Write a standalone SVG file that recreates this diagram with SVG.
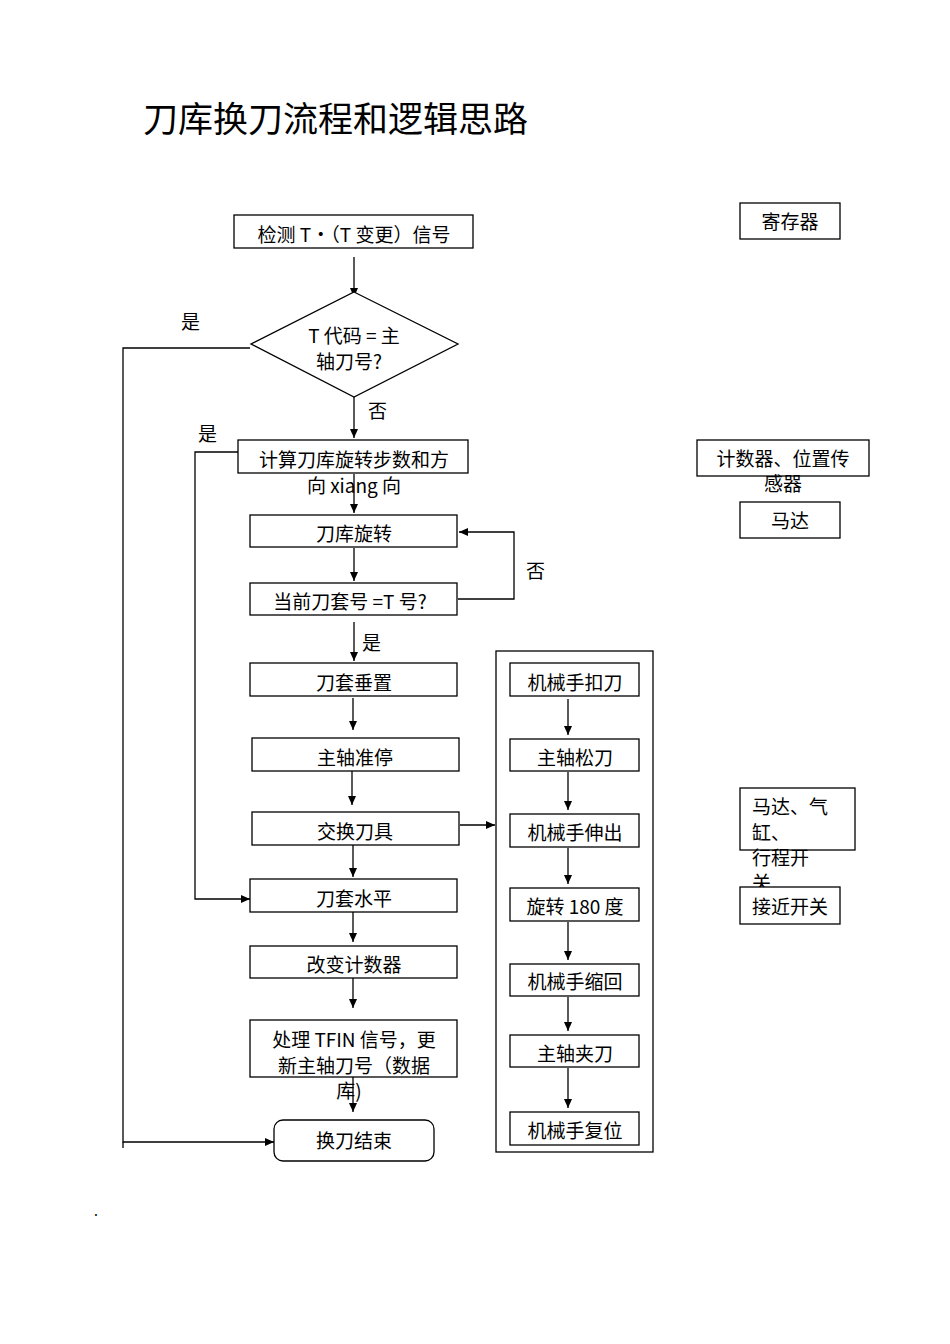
<svg xmlns="http://www.w3.org/2000/svg" width="950" height="1344" viewBox="0 0 950 1344">
<style>
text{font-family:"Noto Sans CJK SC","Noto Sans",sans-serif;font-size:19px;fill:#000}
.c{text-anchor:middle}
.b{fill:#fff;stroke:#000;stroke-width:1.3}
.l{fill:none;stroke:#000;stroke-width:1.3}
</style>
<defs><marker id="a" markerWidth="10" markerHeight="10" refX="9" refY="5" orient="auto" markerUnits="userSpaceOnUse"><path d="M0,1 L9,5 L0,9 z" fill="#000"/></marker></defs>
<rect width="950" height="1344" fill="#fff"/>
<text x="143" y="132" style="font-size:35px">刀库换刀流程和逻辑思路</text>
<g id="connectors" class="l" marker-end="url(#a)">
<line x1="354" y1="257" x2="354" y2="297"/>
<line x1="354" y1="397" x2="354" y2="438"/>
<line x1="354" y1="474" x2="354" y2="513"/>
<line x1="354" y1="548" x2="354" y2="581"/>
<polyline points="458,599 514,599 514,532 459,532"/>
<line x1="354" y1="622" x2="354" y2="661"/>
<line x1="353" y1="698" x2="353" y2="730"/>
<line x1="352" y1="771" x2="352" y2="805"/>
<line x1="353" y1="840" x2="353" y2="877"/>
<polyline points="238,452 195,452 195,899 250,899"/>
<line x1="353" y1="904" x2="353" y2="942"/>
<line x1="353" y1="968" x2="353" y2="1008"/>
<line x1="353" y1="1075" x2="353" y2="1112"/>
<polyline points="250,348 123,348 123,1142 274,1142"/>
<line x1="460" y1="825" x2="495" y2="825"/>
<line x1="568" y1="699" x2="568" y2="735"/>
<line x1="568" y1="772" x2="568" y2="810"/>
<line x1="568" y1="848" x2="568" y2="884"/>
<line x1="568" y1="922" x2="568" y2="960"/>
<line x1="568" y1="997" x2="568" y2="1031"/>
<line x1="568" y1="1068" x2="568" y2="1108"/>
</g>
<line x1="123" y1="1142" x2="123" y2="1148" stroke="#000" stroke-width="1.3"/>
<g id="n1"><rect class="b" x="234" y="215" width="239" height="33"/><text class="c" x="354" y="242">检测 T·（T 变更）信号</text></g>
<g id="n2"><polygon class="b" points="354,292 458,344 354,397 251,344"/><text class="c" x="354" y="343">T 代码 = 主</text><text class="c" x="349" y="369">轴刀号?</text></g>
<text x="181" y="329">是</text><text x="368" y="418">否</text><text x="198" y="441">是</text>
<g id="n3"><rect class="b" x="238" y="440" width="230" height="33"/><text class="c" x="354" y="467">计算刀库旋转步数和方</text><text class="c" x="354" y="493">向 xiang 向</text></g>
<g id="n4"><rect class="b" x="250" y="515" width="207" height="32"/><text class="c" x="354" y="541">刀库旋转</text></g>
<g id="n5"><rect class="b" x="250" y="583" width="207" height="32"/><text class="c" x="350" y="609">当前刀套号 =T 号?</text></g>
<text x="526" y="578">否</text><text x="362" y="650">是</text>
<g id="n6"><rect class="b" x="250" y="663" width="207" height="33"/><text class="c" x="354" y="690">刀套垂置</text></g>
<g id="n7"><rect class="b" x="252" y="738" width="207" height="33"/><text class="c" x="355" y="765">主轴准停</text></g>
<g id="n8"><rect class="b" x="252" y="812" width="207" height="33"/><text class="c" x="355" y="839">交换刀具</text></g>
<g id="n9"><rect class="b" x="250" y="879" width="207" height="33"/><text class="c" x="354" y="906">刀套水平</text></g>
<g id="n10"><rect class="b" x="250" y="946" width="207" height="32"/><text class="c" x="354" y="972">改变计数器</text></g>
<g id="n11"><rect class="b" x="250" y="1020" width="207" height="57"/><text class="c" x="354" y="1047">处理 TFIN 信号，更</text><text class="c" x="354" y="1073">新主轴刀号（数据</text><text class="c" x="349" y="1098">库)</text></g>
<g id="n12"><rect class="b" x="274" y="1120" width="160" height="41" rx="9"/><text class="c" x="354" y="1148">换刀结束</text></g>
<g id="group"><rect class="l" x="496" y="651" width="157" height="501"/></g>
<g id="m1"><rect class="b" x="510" y="663" width="129" height="33"/><text class="c" x="575" y="690">机械手扣刀</text></g>
<g id="m2"><rect class="b" x="510" y="739" width="129" height="32"/><text class="c" x="575" y="765">主轴松刀</text></g>
<g id="m3"><rect class="b" x="510" y="814" width="129" height="33"/><text class="c" x="575" y="840">机械手伸出</text></g>
<g id="m4"><rect class="b" x="510" y="888" width="129" height="33"/><text class="c" x="575" y="914">旋转 180 度</text></g>
<g id="m5"><rect class="b" x="510" y="964" width="129" height="32"/><text class="c" x="575" y="989">机械手缩回</text></g>
<g id="m6"><rect class="b" x="510" y="1035" width="129" height="32"/><text class="c" x="575" y="1061">主轴夹刀</text></g>
<g id="m7"><rect class="b" x="510" y="1112" width="129" height="33"/><text class="c" x="575" y="1138">机械手复位</text></g>
<g id="r1"><rect class="b" x="740" y="203" width="100" height="36"/><text class="c" x="790" y="229">寄存器</text></g>
<g id="r2"><rect class="b" x="697" y="440" width="172" height="36"/><text class="c" x="783" y="466">计数器、位置传</text><text class="c" x="783" y="491">感器</text></g>
<g id="r3"><rect class="b" x="740" y="502" width="100" height="36"/><text class="c" x="790" y="528">马达</text></g>
<g id="r4"><rect class="b" x="740" y="788" width="115" height="62"/><text x="752" y="814">马达、气</text><text x="752" y="840">缸、</text><text x="752" y="865">行程开</text><text x="752" y="890">关</text></g>
<g id="r5"><rect class="b" x="740" y="887" width="100" height="37"/><text class="c" x="790" y="914">接近开关</text></g>
<text x="94" y="1216" style="font-size:14px">.</text>
</svg>
